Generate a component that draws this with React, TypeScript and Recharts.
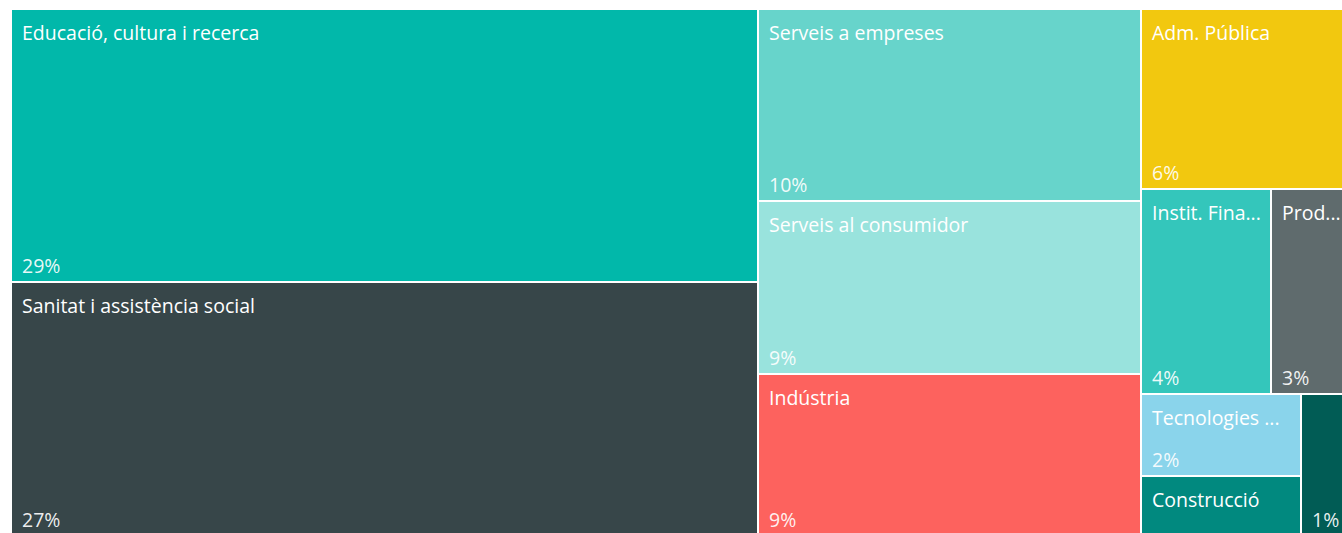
import { Treemap } from 'recharts'

// sectors, in the order the layout places them
const categories = [
  'Educació, cultura i recerca',
  'Sanitat i assistència social',
  'Serveis a empreses',
  'Serveis al consumidor',
  'Indústria',
  'Adm. Pública',
  'Instit. Fina...',
  'Prod...',
  'Tecnologies ...',
  'Construcció',
  'Altres',
]
// share of the total, in %
const shares = [28.62, 26.63, 10.32, 9.3, 8.71, 5.61, 3.74, 2.65, 1.84, 1.35, 1.24]
const colors = [
  '#01B8AA',
  '#374649',
  '#67D4CB',
  '#99E3DD',
  '#FD625E',
  '#F2C80F',
  '#34C6BB',
  '#5F6B6D',
  '#8AD4EB',
  '#01897F',
  '#015C55',
]

const data = categories.map((name, i) => ({ name, value: shares[i] }))
const total = shares.reduce((s, v) => s + v, 0)

const FONT = "'Open Sans', 'Noto Sans', sans-serif"

function Cell(props: any) {
  const { x, y, width, height, index, depth, name, value } = props
  if (depth !== 1) return null
  const pct = `${Math.round((value / total) * 100)}%`
  return (
    <g>
      <rect x={x} y={y} width={width} height={height} fill={colors[index]} stroke="#fff" strokeWidth={2} />
      {width > 80 && (
        <text x={x + 11} y={y + 31} fill="#fff" fontSize={19.5} fontFamily={FONT}>
          {name}
        </text>
      )}
      {height > 70 && (
        <text x={x + 11} y={y + height - 9} fill="#fff" fillOpacity={0.92} fontSize={19.5} fontFamily={FONT}>
          {pct}
        </text>
      )}
    </g>
  )
}

export default function App() {
  return (
    <div style={{ position: 'fixed', left: 0, top: 0, width: 1342, height: 533, overflow: 'hidden', background: '#fff' }}>
      <div style={{ position: 'absolute', left: 11, top: 9 }}>
        <Treemap
          width={1352}
          height={527}
          data={data}
          dataKey="value"
          nameKey="name"
          content={(p: any) => <Cell {...p} />}
          isAnimationActive={false}
        />
      </div>
    </div>
  )
}
